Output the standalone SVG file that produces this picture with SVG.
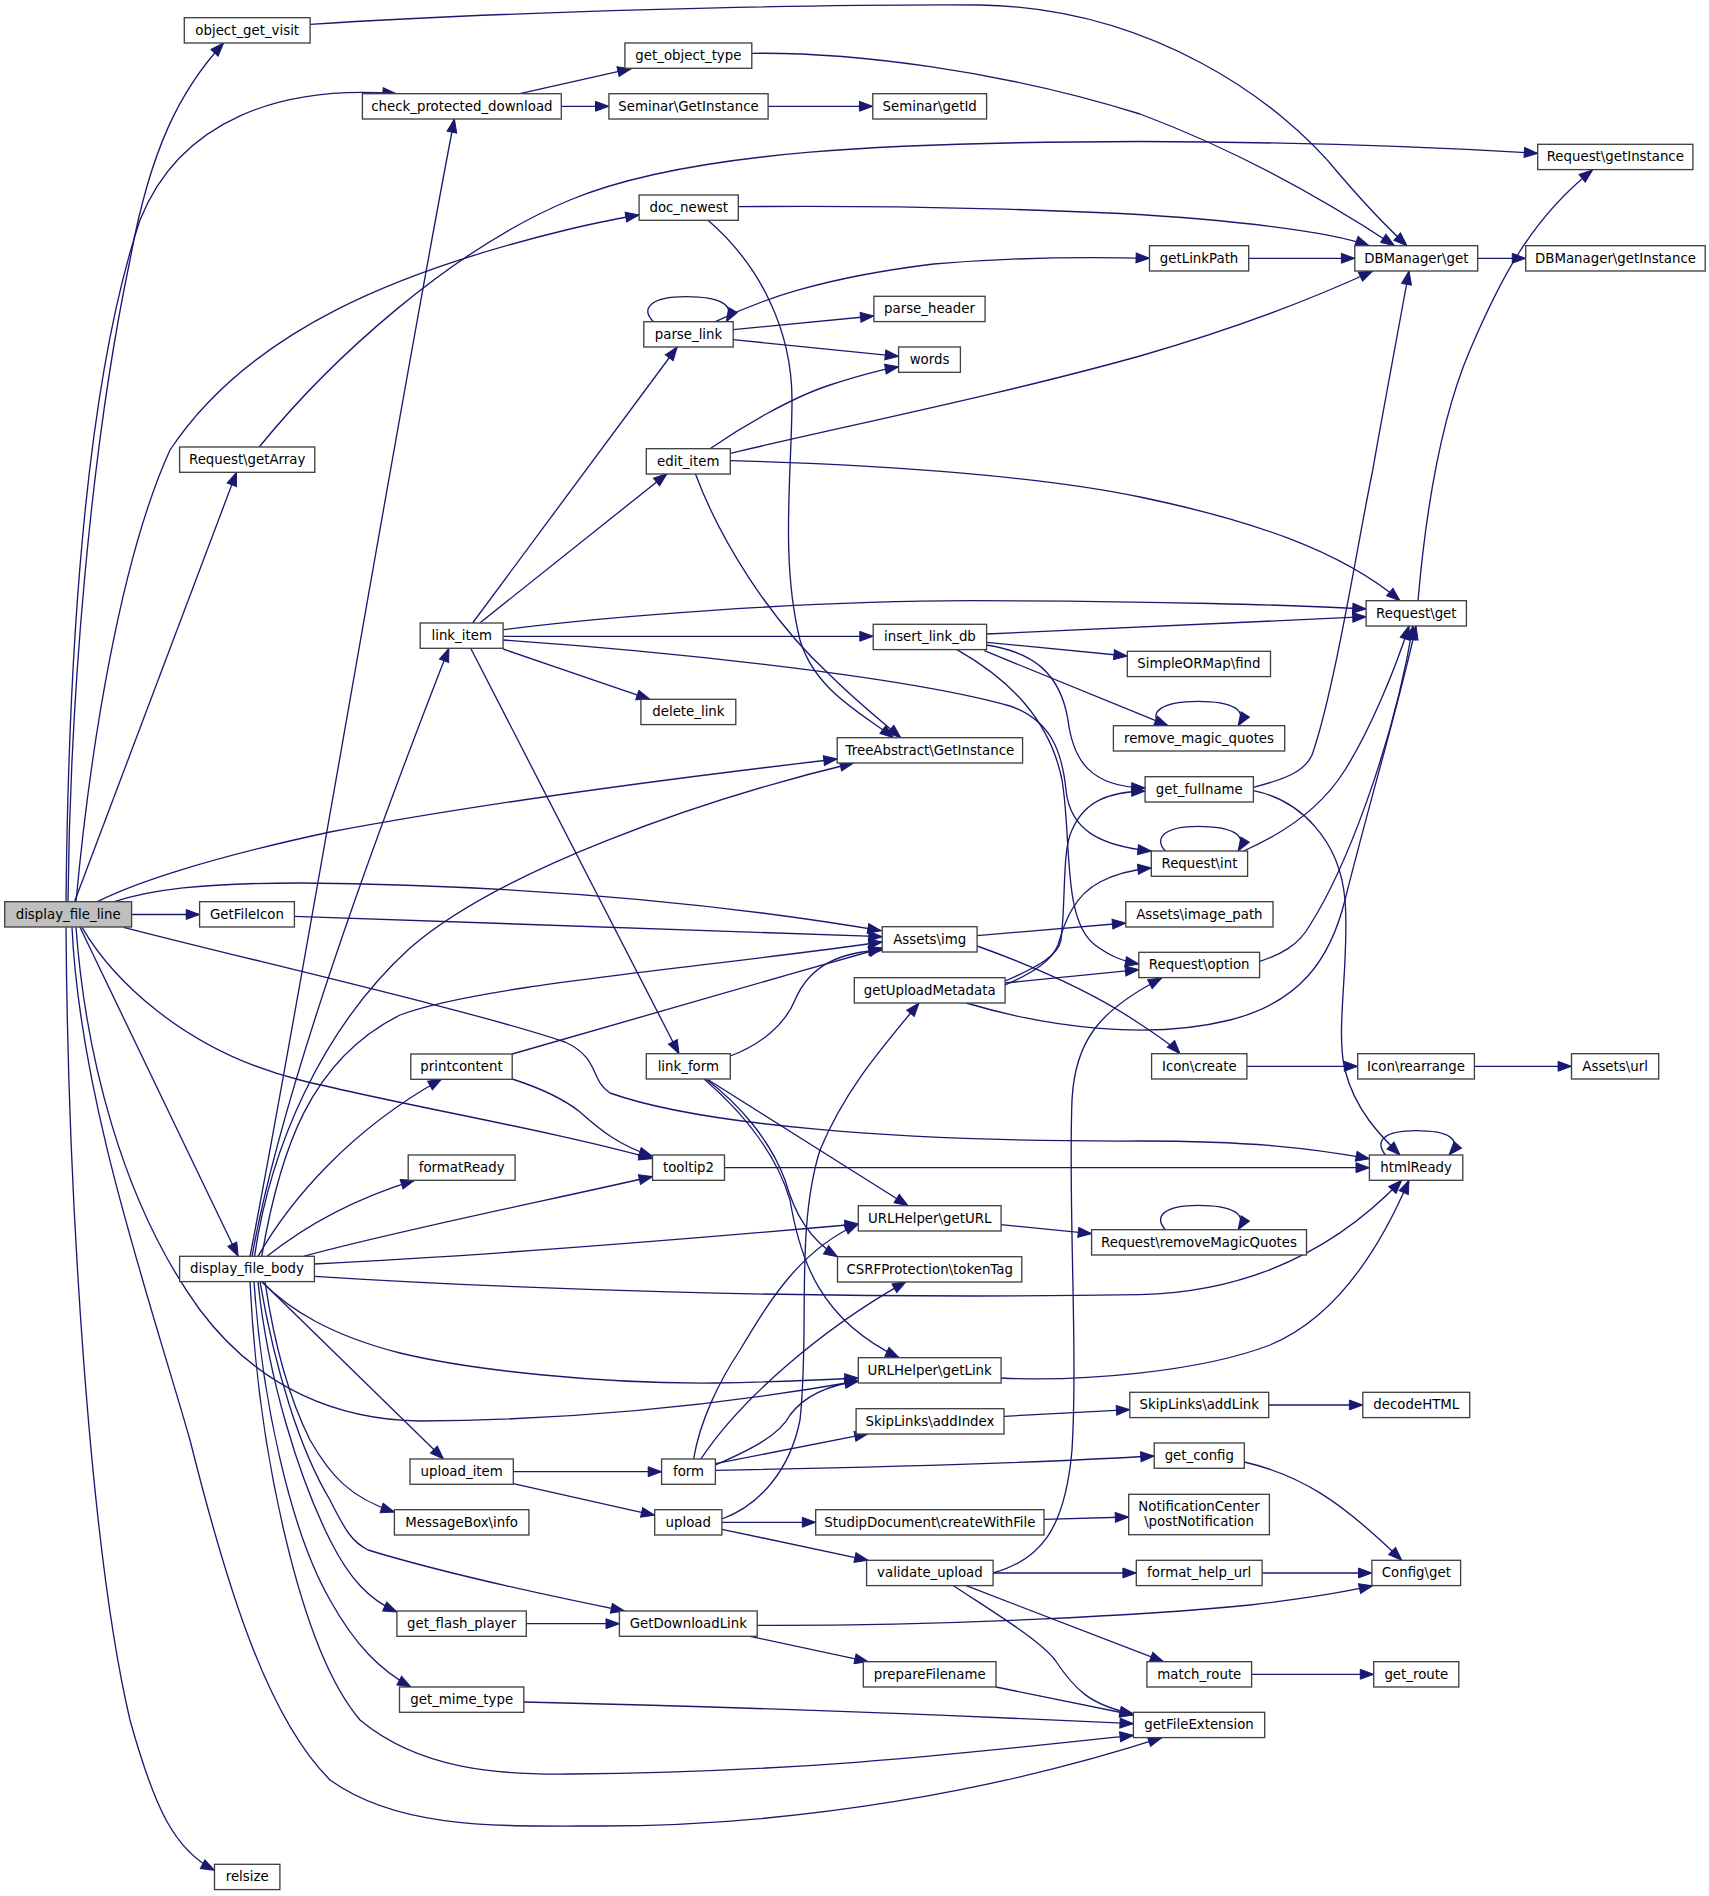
<svg xmlns="http://www.w3.org/2000/svg" width="1709" height="1896" viewBox="0 0 1709 1896">
<style>
.n rect{fill:#ffffff;stroke:#404040;stroke-width:1.33}
.n text{font-family:"DejaVu Sans","Liberation Sans",sans-serif;font-size:13.33px;fill:#000;text-anchor:middle}
#n25 rect{fill:#bfbfbf;stroke:#404040}
#edges path{fill:none;stroke:#191970;stroke-width:1.33;marker-end:url(#ah)}
</style>
<defs>
<marker id="ah" markerUnits="userSpaceOnUse" markerWidth="14" markerHeight="11" viewBox="0 0 14 11" refX="13.4" refY="5.25" orient="auto" overflow="visible">
<path d="M0,0.3 L13.4,5.25 L0,10.2 z" fill="#191970" stroke="#191970" stroke-width="1"/>
</marker>
</defs>
<rect x="0" y="0" width="1709" height="1896" fill="#ffffff"/>
<g id="edges">
<path d="M310.1,24.3 C500,12 800,4 980,5 C1150,8 1280,100 1340,175 C1370,210 1390,230 1407,245.7"/>
<path d="M519.8,93.7 L631.1,68.7"/>
<path d="M561.3,106.3 L608.9,106.3"/>
<path d="M768.1,106.3 L872.8,106.3"/>
<path d="M751.8,53.3 C850,52 1000,70 1140,114 C1250,155 1340,210 1394.5,245.7"/>
<path d="M738.3,206.7 C900,205 1100,210 1200,219 C1290,227 1340,235 1369,245.7"/>
<path d="M708,220.3 C760,265 792,330 792,400 C792,470 780,560 800,640 C815,690 860,712 893.5,737.7"/>
<path d="M695.4,473.7 C720,540 770,620 830,675 C855,700 880,720 900.8,737.7"/>
<path d="M259.2,447 C330,360 450,250 570,200 C690,150 900,142 1140,141.5 C1300,142 1450,148 1537.7,153.3"/>
<path d="M1248.7,258.3 L1354.8,258.3"/>
<path d="M1477.7,258.3 L1525.7,258.3"/>
<path d="M715.4,321.7 C760,300 820,278 933.5,264 C1030,256 1100,257 1149.5,258.3"/>
<path d="M653.6,321.7 C640,309 650,296.7 686,296.7 C720,296.7 736,305 726.3,321.7"/>
<path d="M733.2,329.7 L873.9,316"/>
<path d="M733.2,339.7 L898.6,356.3"/>
<path d="M710,448.7 C740,428 790,398 830,385 C855,377 880,370 898.6,366.7"/>
<path d="M730.3,453.3 C850,425 1000,395 1140,356 C1230,330 1310,300 1372.6,271"/>
<path d="M730.3,460.7 C900,465 1050,478 1140,497 C1250,520 1340,550 1400,600.7"/>
<path d="M472.6,623 L677.2,347"/>
<path d="M479.8,623 L667,473.7"/>
<path d="M503.1,629.7 C600,617 800,601 970,600.7 C1150,601 1300,605 1366.1,609"/>
<path d="M503.1,636.3 L873.2,636.3"/>
<path d="M503.1,640 C650,650 900,675 1010,706 C1050,720 1062,750 1066,790 C1070,830 1100,846 1151.3,851"/>
<path d="M503.1,649 L650,699.3"/>
<path d="M470.7,648.3 L679,1053.7"/>
<path d="M986.6,634 L1366.1,616.7"/>
<path d="M986.6,642.3 L1127.3,656"/>
<path d="M984.4,650.7 L1168,725.7"/>
<path d="M1160,725.7 C1148,712 1162,701.3 1198,701.3 C1232,701.3 1248,710 1238.1,725.7"/>
<path d="M986.6,645 C1032,652 1060,672 1068,720 C1073,760 1090,787 1145.1,788"/>
<path d="M957,649.7 C1010,680 1050,720 1062,780 C1072,840 1062,920 1095,945 C1110,956 1122,961 1138.8,964"/>
<path d="M1253.4,787.3 C1290,778 1305,770 1312,755 C1335,690 1360,530 1372,474 C1385,400 1400,320 1409,271"/>
<path d="M1253.4,790.7 C1300,800 1340,840 1345,900 C1350,960 1335,1030 1345,1070 C1355,1110 1380,1135 1400,1155"/>
<path d="M1418,600.7 C1425,520 1440,420 1470,350 C1500,280 1530,220 1592.6,170"/>
<path d="M1243.6,851 C1280,835 1320,810 1345,770 C1370,730 1395,670 1409,626"/>
<path d="M1165.4,851 C1153,838 1165,826.3 1198,826.3 C1232,826.3 1248,835 1238.1,851"/>
<path d="M1259.6,961.3 C1280,955 1298,946 1310,925 C1345,870 1392,750 1413,626"/>
<path d="M966.2,1003 C1050,1028 1150,1040 1230,1020 C1300,1002 1330,960 1345,900 C1370,800 1400,700 1416,626"/>
<path d="M977.1,935.7 L1125.8,923"/>
<path d="M977.1,946 C1030,965 1090,990 1140,1024 C1160,1037 1172,1045 1180,1053.7"/>
<path d="M1246.9,1066.3 L1357.7,1066.3"/>
<path d="M1474.4,1066.3 L1571.5,1066.3"/>
<path d="M1005.1,983 L1138.8,969.7"/>
<path d="M1005.1,981 C1040,966 1058,955 1061,940 C1066,900 1062,850 1072,830 C1085,800 1110,792 1145.1,791"/>
<path d="M1005.1,985 C1035,972 1052,960 1058,945 C1065,920 1075,895 1100,882 C1115,874 1130,870 1151.3,868"/>
<path d="M993.1,1573 C1040,1560 1065,1530 1072,1450 C1078,1350 1068,1200 1072,1100 C1075,1040 1100,1010 1161.8,978"/>
<path d="M1165.4,1229.7 C1153,1216 1165,1205.3 1198,1205.3 C1232,1205.3 1248,1214 1238.1,1229.7"/>
<path d="M1001.1,1224.7 L1091.6,1233.7"/>
<path d="M1001.1,1378 C1080,1382 1200,1372 1270,1345 C1330,1320 1375,1260 1409,1180.3"/>
<path d="M314.4,1276.3 C500,1288 800,1300 1140,1294.7 C1250,1292 1335,1250 1401.7,1180.3"/>
<path d="M724.5,1167.7 L1369.4,1167.7"/>
<path d="M123.6,927.3 C250,960 470,1010 565,1042 C600,1058 590,1080 610,1093 C700,1125 900,1142 1140,1141 C1250,1141 1310,1148 1369.4,1158.7"/>
<path d="M82,927.3 C110,975 180,1050 300,1080 C400,1105 550,1130 652.5,1158.7"/>
<path d="M512.2,1079 C540,1088 565,1100 580,1112 C600,1130 620,1146 652.5,1156.3"/>
<path d="M303.5,1256.3 C400,1230 550,1200 652.5,1176.5"/>
<path d="M261.7,1256.3 C280,1150 310,1060 400,1015 C480,985 700,968 882.2,942"/>
<path d="M512.2,1054 C600,1030 750,985 882.2,948"/>
<path d="M730.3,1056 C760,1045 785,1025 795,1000 C810,965 840,952 882.2,950"/>
<path d="M708.1,1079.7 L908,1205.7"/>
<path d="M706,1079 C740,1105 770,1140 785,1180 C795,1215 810,1240 837.5,1256.7"/>
<path d="M704,1079 C740,1110 775,1150 790,1200 C800,1260 820,1320 899,1357.7"/>
<path d="M693.6,1459 C700,1420 720,1380 740,1350 C770,1300 800,1250 858.3,1224"/>
<path d="M700.9,1459 C740,1400 820,1330 906,1281.7"/>
<path d="M715.4,1465 C750,1450 780,1435 790,1415 C805,1395 830,1385 858.3,1381"/>
<path d="M715.4,1463.7 L868.1,1433.7"/>
<path d="M715.4,1470.3 C900,1467 1050,1462 1154.2,1456"/>
<path d="M1244.3,1462 C1300,1475 1340,1500 1401.7,1560.3"/>
<path d="M513.3,1471.7 L661.6,1471.7"/>
<path d="M513.3,1483.7 L654.7,1515.3"/>
<path d="M721.9,1519 C760,1505 790,1470 800,1420 C810,1330 795,1230 820,1150 C845,1090 880,1050 919,1003"/>
<path d="M721.9,1522.3 L815.7,1522.3"/>
<path d="M721.9,1529.3 L868.1,1560.3"/>
<path d="M1044,1519.3 L1128.7,1517"/>
<path d="M993.1,1573 L1136.3,1573"/>
<path d="M1262.1,1573 L1371.9,1573"/>
<path d="M757.2,1625.3 C950,1626 1150,1615 1250,1605 C1310,1598 1345,1592 1372.6,1585.7"/>
<path d="M750,1636.3 L868.1,1661.7"/>
<path d="M526.3,1623.7 L619.4,1623.7"/>
<path d="M260,1281.7 C275,1370 300,1450 330,1500 C345,1530 352,1542 368,1550 C450,1575 550,1596 624.5,1611"/>
<path d="M966.2,1585.7 L1163.6,1661.7"/>
<path d="M953.5,1585.7 C990,1610 1040,1640 1055,1660 C1075,1690 1090,1705 1133.4,1714"/>
<path d="M996,1687 L1133.4,1715"/>
<path d="M523.8,1702 C700,1706 950,1715 1133.4,1723.7"/>
<path d="M250,1281.7 C258,1450 300,1650 360,1720 C420,1770 500,1775 570,1774 C800,1772 950,1755 1133.4,1735.3"/>
<path d="M72,927.3 C80,1100 150,1300 190,1440 C230,1600 270,1720 330,1780 C400,1830 500,1826 600,1826 C800,1826 1000,1790 1161.8,1737.7"/>
<path d="M76,927.3 C85,1050 120,1200 200,1310 C260,1390 340,1420 420,1421 C600,1420 750,1400 858.3,1381"/>
<path d="M261.7,1281.7 C290,1310 330,1335 400,1353 C470,1370 600,1384 715,1383 C780,1382 820,1380 858.3,1378"/>
<path d="M66,927.3 C68,1200 90,1550 130,1720 C155,1810 175,1850 214.5,1870.3"/>
<path d="M80,927.3 L238.1,1256.3"/>
<path d="M131.6,914.5 L199.6,914.5"/>
<path d="M294.4,916.3 L882.2,936.7"/>
<path d="M114.5,901.7 C150,890 200,883 300,883 C500,885 700,900 881.2,930.7"/>
<path d="M97.4,901.7 C130,885 200,860 330,832 C500,800 700,775 837.2,759"/>
<path d="M76,901.7 C90,750 120,560 170,450 C250,330 400,270 570,229 C600,222 620,218 639.1,215"/>
<path d="M74.5,901.7 L236.5,472.3"/>
<path d="M68,901.7 C70,700 90,450 130,260 C150,150 180,90 223.6,43"/>
<path d="M66,901.7 C68,700 80,400 140,220 C180,120 280,85 396.2,93.7"/>
<path d="M250,1256.3 C300,1000 400,400 454.4,119"/>
<path d="M252,1256.3 C280,1100 370,850 448.9,648.3"/>
<path d="M254.5,1256.3 C270,1150 320,1030 410,948 C500,870 700,800 853.5,763"/>
<path d="M258,1256.3 C290,1200 350,1130 441.7,1079"/>
<path d="M267,1256.3 C300,1230 350,1200 414.4,1180.3"/>
<path d="M314.4,1264 C500,1255 700,1238 858.3,1224"/>
<path d="M262,1281.7 L443.5,1459"/>
<path d="M265,1281.7 C275,1350 290,1400 310,1440 C330,1475 350,1498 394.4,1512"/>
<path d="M258,1281.7 C268,1380 300,1480 330,1540 C350,1580 370,1600 396.9,1612"/>
<path d="M254,1281.7 C262,1400 290,1530 330,1600 C355,1645 380,1670 411,1687"/>
<path d="M1004,1416.3 L1129.8,1409.7"/>
<path d="M1268.7,1405 L1362.8,1405"/>
<path d="M1251.6,1674.3 L1373.7,1674.3"/>
<path d="M1385.4,1155 C1374,1140 1385,1130.7 1416.3,1130.7 C1448,1130.7 1463,1139 1449,1155"/>
</g>
<g id="n1" class="n"><rect x="184.3" y="17.7" width="125.8" height="25.3"/><text x="247.2" y="34.5">object_get_visit</text></g>
<g id="n2" class="n"><rect x="362.4" y="93.7" width="198.9" height="25.3"/><text x="461.9" y="110.5">check_protected_download</text></g>
<g id="n3" class="n"><rect x="624.9" y="43" width="126.9" height="25.3"/><text x="688.4" y="59.8">get_object_type</text></g>
<g id="n4" class="n"><rect x="608.9" y="93.7" width="159.2" height="25.3"/><text x="688.5" y="110.5">Seminar\GetInstance</text></g>
<g id="n5" class="n"><rect x="872.8" y="93.7" width="113.8" height="25.3"/><text x="929.7" y="110.5">Seminar\getId</text></g>
<g id="n6" class="n"><rect x="1537.7" y="144.3" width="155.2" height="25.3"/><text x="1615.3" y="161.1">Request\getInstance</text></g>
<g id="n7" class="n"><rect x="639.1" y="195" width="99.2" height="25.3"/><text x="688.7" y="211.8">doc_newest</text></g>
<g id="n8" class="n"><rect x="1149.5" y="245.7" width="99.2" height="25.3"/><text x="1199.1" y="262.5">getLinkPath</text></g>
<g id="n9" class="n"><rect x="1354.8" y="245.7" width="122.9" height="25.3"/><text x="1416.3" y="262.5">DBManager\get</text></g>
<g id="n10" class="n"><rect x="1525.7" y="245.7" width="179.5" height="25.3"/><text x="1615.5" y="262.5">DBManager\getInstance</text></g>
<g id="n11" class="n"><rect x="873.9" y="296.3" width="111.2" height="25.3"/><text x="929.5" y="313.1">parse_header</text></g>
<g id="n12" class="n"><rect x="643.8" y="321.7" width="89.4" height="25.3"/><text x="688.5" y="338.5">parse_link</text></g>
<g id="n13" class="n"><rect x="898.6" y="347" width="61.8" height="25.3"/><text x="929.5" y="363.8">words</text></g>
<g id="n14" class="n"><rect x="179.6" y="447" width="135.2" height="25.3"/><text x="247.2" y="463.8">Request\getArray</text></g>
<g id="n15" class="n"><rect x="646.3" y="448.7" width="84" height="25.3"/><text x="688.3" y="465.5">edit_item</text></g>
<g id="n16" class="n"><rect x="1366.1" y="600.7" width="100.3" height="25.3"/><text x="1416.3" y="617.5">Request\get</text></g>
<g id="n17" class="n"><rect x="420.2" y="623" width="82.9" height="25.3"/><text x="461.7" y="639.8">link_item</text></g>
<g id="n18" class="n"><rect x="873.2" y="624.3" width="113.4" height="25.3"/><text x="929.9" y="641.1">insert_link_db</text></g>
<g id="n19" class="n"><rect x="1127.3" y="651.3" width="143.2" height="25.3"/><text x="1198.9" y="668.1">SimpleORMap\find</text></g>
<g id="n20" class="n"><rect x="640.9" y="699.3" width="94.9" height="25.3"/><text x="688.4" y="716.1">delete_link</text></g>
<g id="n21" class="n"><rect x="1113.4" y="725.7" width="171.3" height="25.3"/><text x="1199" y="742.5">remove_magic_quotes</text></g>
<g id="n22" class="n"><rect x="837.2" y="737.7" width="185.4" height="25.3"/><text x="929.9" y="754.5">TreeAbstract\GetInstance</text></g>
<g id="n23" class="n"><rect x="1145.1" y="776.7" width="108.3" height="25.3"/><text x="1199.3" y="793.5">get_fullname</text></g>
<g id="n24" class="n"><rect x="1151.3" y="851" width="96.3" height="25.3"/><text x="1199.5" y="867.8">Request\int</text></g>
<g id="n25" class="n"><rect x="4.7" y="901.7" width="126.9" height="25.3"/><text x="68.2" y="918.5">display_file_line</text></g>
<g id="n26" class="n"><rect x="199.6" y="901.7" width="94.8" height="25.3"/><text x="247" y="918.5">GetFileIcon</text></g>
<g id="n27" class="n"><rect x="882.2" y="926.7" width="94.9" height="25.3"/><text x="929.7" y="943.5">Assets\img</text></g>
<g id="n28" class="n"><rect x="1125.8" y="901.7" width="147.2" height="25.3"/><text x="1199.4" y="918.5">Assets\image_path</text></g>
<g id="n29" class="n"><rect x="1138.8" y="952.3" width="120.8" height="25.3"/><text x="1199.2" y="969.1">Request\option</text></g>
<g id="n30" class="n"><rect x="854.3" y="977.7" width="150.8" height="25.3"/><text x="929.7" y="994.5">getUploadMetadata</text></g>
<g id="n31" class="n"><rect x="410.8" y="1054" width="101.4" height="25.3"/><text x="461.5" y="1070.8">printcontent</text></g>
<g id="n32" class="n"><rect x="646.3" y="1053.7" width="84" height="25.3"/><text x="688.3" y="1070.5">link_form</text></g>
<g id="n33" class="n"><rect x="1151.6" y="1053.7" width="95.3" height="25.3"/><text x="1199.3" y="1070.5">Icon\create</text></g>
<g id="n34" class="n"><rect x="1357.7" y="1053.7" width="116.7" height="25.3"/><text x="1416" y="1070.5">Icon\rearrange</text></g>
<g id="n35" class="n"><rect x="1571.5" y="1053.7" width="87.2" height="25.3"/><text x="1615.1" y="1070.5">Assets\url</text></g>
<g id="n36" class="n"><rect x="408.2" y="1155" width="106.9" height="25.3"/><text x="461.7" y="1171.8">formatReady</text></g>
<g id="n37" class="n"><rect x="652.5" y="1155" width="72" height="25.3"/><text x="688.5" y="1171.8">tooltip2</text></g>
<g id="n38" class="n"><rect x="1369.4" y="1155" width="93.4" height="25.3"/><text x="1416.1" y="1171.8">htmlReady</text></g>
<g id="n39" class="n"><rect x="858.3" y="1205.7" width="142.8" height="25.3"/><text x="929.7" y="1222.5">URLHelper\getURL</text></g>
<g id="n40" class="n"><rect x="1091.6" y="1229.7" width="214.9" height="25.3"/><text x="1199" y="1246.5">Request\removeMagicQuotes</text></g>
<g id="n41" class="n"><rect x="179.6" y="1256.3" width="134.8" height="25.3"/><text x="247" y="1273.1">display_file_body</text></g>
<g id="n42" class="n"><rect x="837.5" y="1256.7" width="184.3" height="25.3"/><text x="929.7" y="1273.5">CSRFProtection\tokenTag</text></g>
<g id="n43" class="n"><rect x="858.3" y="1357.7" width="142.8" height="25.3"/><text x="929.7" y="1374.5">URLHelper\getLink</text></g>
<g id="n44" class="n"><rect x="1129.8" y="1392.3" width="138.9" height="25.3"/><text x="1199.3" y="1409.1">SkipLinks\addLink</text></g>
<g id="n45" class="n"><rect x="1362.8" y="1392.3" width="106.9" height="25.3"/><text x="1416.3" y="1409.1">decodeHTML</text></g>
<g id="n46" class="n"><rect x="856.1" y="1408.7" width="147.9" height="25.3"/><text x="930" y="1425.5">SkipLinks\addIndex</text></g>
<g id="n47" class="n"><rect x="1154.2" y="1443" width="90.1" height="25.3"/><text x="1199.3" y="1459.8">get_config</text></g>
<g id="n48" class="n"><rect x="410" y="1459" width="103.3" height="25.3"/><text x="461.7" y="1475.8">upload_item</text></g>
<g id="n49" class="n"><rect x="661.6" y="1459" width="53.8" height="25.3"/><text x="688.5" y="1475.8">form</text></g>
<g id="n50" class="n"><rect x="1128.7" y="1494.3" width="140.7" height="40.4"/><text x="1199" y="1511.3">NotificationCenter</text><text x="1199" y="1525.8">\postNotification</text></g>
<g id="n51" class="n"><rect x="394.4" y="1509.7" width="134.5" height="25.3"/><text x="461.7" y="1526.5">MessageBox\info</text></g>
<g id="n52" class="n"><rect x="654.7" y="1509.7" width="67.2" height="25.3"/><text x="688.3" y="1526.5">upload</text></g>
<g id="n53" class="n"><rect x="815.7" y="1509.7" width="228.3" height="25.3"/><text x="929.9" y="1526.5">StudipDocument\createWithFile</text></g>
<g id="n54" class="n"><rect x="866.6" y="1560.3" width="126.5" height="25.3"/><text x="929.9" y="1577.1">validate_upload</text></g>
<g id="n55" class="n"><rect x="1136.3" y="1560.3" width="125.8" height="25.3"/><text x="1199.2" y="1577.1">format_help_url</text></g>
<g id="n56" class="n"><rect x="1371.9" y="1560.3" width="88.7" height="25.3"/><text x="1416.3" y="1577.1">Config\get</text></g>
<g id="n57" class="n"><rect x="396.9" y="1611" width="129.4" height="25.3"/><text x="461.6" y="1627.8">get_flash_player</text></g>
<g id="n58" class="n"><rect x="619.4" y="1611" width="137.8" height="25.3"/><text x="688.3" y="1627.8">GetDownloadLink</text></g>
<g id="n59" class="n"><rect x="863.3" y="1661.7" width="132.7" height="25.3"/><text x="929.7" y="1678.5">prepareFilename</text></g>
<g id="n60" class="n"><rect x="1146.9" y="1661.7" width="104.7" height="25.3"/><text x="1199.3" y="1678.5">match_route</text></g>
<g id="n61" class="n"><rect x="1373.7" y="1661.7" width="85.1" height="25.3"/><text x="1416.3" y="1678.5">get_route</text></g>
<g id="n62" class="n"><rect x="399.5" y="1687" width="124.3" height="25.3"/><text x="461.7" y="1703.8">get_mime_type</text></g>
<g id="n63" class="n"><rect x="1133.4" y="1712.3" width="131.3" height="25.3"/><text x="1199" y="1729.1">getFileExtension</text></g>
<g id="n64" class="n"><rect x="214.5" y="1864.3" width="65.4" height="25.3"/><text x="247.2" y="1881.1">relsize</text></g>
</svg>
